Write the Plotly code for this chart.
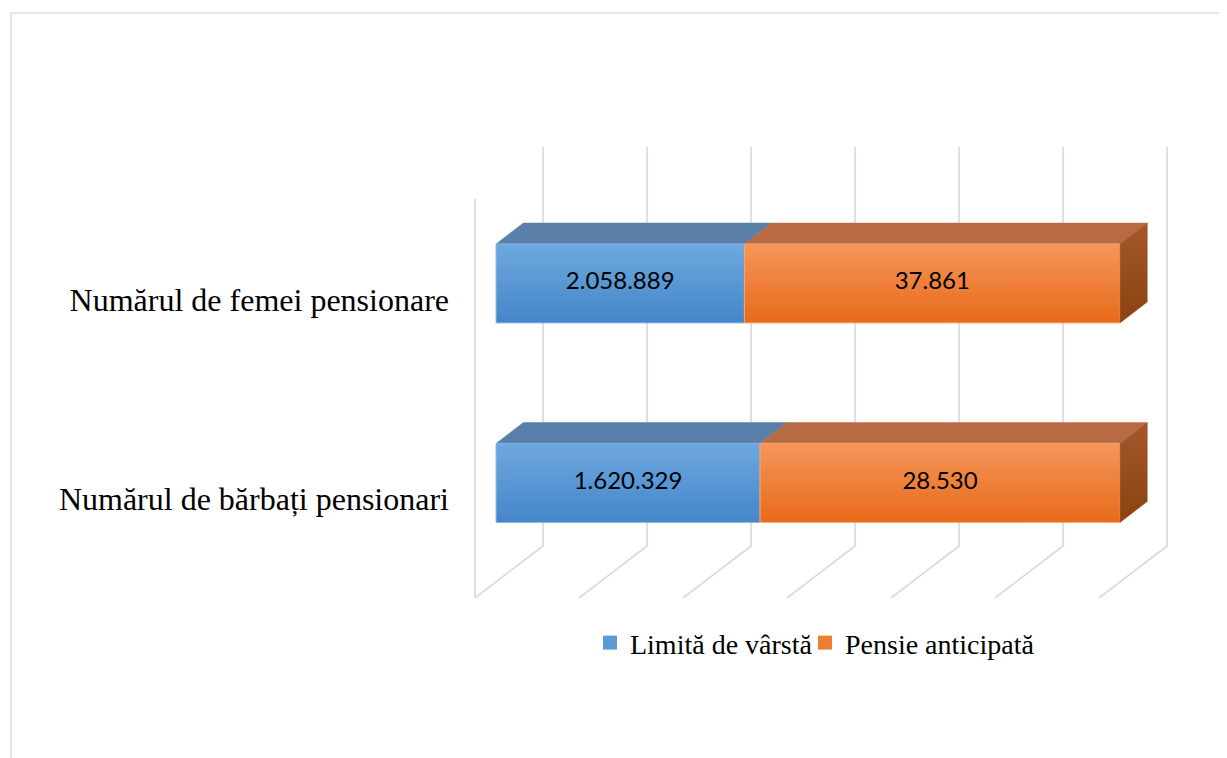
import plotly.graph_objects as go

# ---------------- data ----------------
categories = ["Numărul de bărbați pensionari", "Numărul de femei pensionare"]
series_names = ["Limită de vârstă", "Pensie anticipată"]
limita_values = [1620329, 2058889]        # data labels shown on the blue segments
anticipata_values = [28530, 37861]        # data labels shown on the orange segments
limita_share = [42.3, 39.8]               # bar length (percent of bar) as drawn
anticipata_share = [57.7, 60.2]
grid_ticks = [0, 100/6, 200/6, 300/6, 400/6, 500/6, 100]


def fmt(v):
    return f"{v:,}".replace(",", ".")


# ---------------- 3D projection settings ----------------
DX = 10.9      # x shift (data units) of full depth
DY = 0.2607    # y shift (data units) of full depth
FLOOR = -0.496
TOP = 1.504
D1, D2 = 0.31, 0.71   # bar front / back depth
HALF = 0.198

GRID = "#d9dce5"
BLUE = dict(top="#5a7fa8", light="#6fa8df", dark="#4486c9", edge="#7fb3e6", legend="#5b9bd5")
ORANGE = dict(top="#b86b42", light="#f5965b", dark="#e86a19", edge="#f7a673", legend="#ed7d31",
              side_light="#a3582c", side_dark="#8a420f")


def P(x, y, d):
    return x + d * DX, y + d * DY


fig = go.Figure()

# ---- gridlines (floor + back wall) and left wall edge ----
gx, gy = [], []
for t in grid_ticks:
    x0, y0 = P(t, FLOOR, 0)
    x1, y1 = P(t, FLOOR, 1)
    x2, y2 = P(t, TOP, 1)
    gx += [x0, x1, x2, None]
    gy += [y0, y1, y2, None]
wx0, wy0 = P(0, FLOOR, 0)
wx1, wy1 = P(0, TOP, 0)
gx += [wx0, wx1, None]
gy += [wy0, wy1, None]
fig.add_trace(go.Scatter(x=gx, y=gy, mode="lines", line=dict(color=GRID, width=1.8),
                         hoverinfo="skip", showlegend=False))


def poly(pts, **kw):
    xs = [p[0] for p in pts] + [pts[0][0]]
    ys = [p[1] for p in pts] + [pts[0][1]]
    fig.add_trace(go.Scatter(x=xs, y=ys, mode="lines", fill="toself", hoverinfo="skip",
                             showlegend=False, **kw))


for i, cat in enumerate(categories):
    segs = [(0, limita_share[i], BLUE, limita_values[i]),
            (limita_share[i], limita_share[i] + anticipata_share[i], ORANGE, anticipata_values[i])]
    top = i + HALF
    bot = i - HALF
    for k, (x0, x1, col, val) in enumerate(segs):
        # top face
        poly([P(x0, top, D1), P(x1, top, D1), P(x1, top, D2), P(x0, top, D2)],
             fillcolor=col["top"], line=dict(color=col["top"], width=0.5))
    for k, (x0, x1, col, val) in enumerate(segs):
        # front face with vertical gradient
        poly([P(x0, bot, D1), P(x1, bot, D1), P(x1, top, D1), P(x0, top, D1)],
             fillgradient=dict(type="vertical", colorscale=[[0, col["dark"]], [1, col["light"]]]),
             line=dict(color=col["edge"], width=1))
        if k == len(segs) - 1:
            poly([P(x1, bot, D1), P(x1, bot, D2), P(x1, top, D2), P(x1, top, D1)],
                 fillgradient=dict(type="vertical",
                                   colorscale=[[0, col["side_dark"]], [1, col["side_light"]]]),
                 line=dict(color=col["side_light"], width=0.5))
        cx, cy = P((x0 + x1) / 2, i, D1)
        fig.add_trace(go.Scatter(x=[cx], y=[cy], mode="text", text=[fmt(val)],
                                 textfont=dict(family="Lato", size=24, color="#000000"),
                                 hoverinfo="skip", showlegend=False))

# legend entries (two legends so each can be placed)
for name, col, lg in zip(series_names, [BLUE, ORANGE], ["legend", "legend2"]):
    fig.add_trace(go.Scatter(x=[None], y=[None], mode="markers", name=name, legend=lg,
                             marker=dict(symbol="square", size=14, color=col["legend"])))

# outer frame
fig.add_shape(type="line", xref="paper", yref="paper", x0=-0.651, x1=1.08, y0=1.273, y1=1.273,
              line=dict(color="#d9dde4", width=1.5))
fig.add_shape(type="line", xref="paper", yref="paper", x0=-0.651, x1=-0.651, y0=1.273, y1=-0.33,
              line=dict(color="#d9dde4", width=1.5))

legend_style = dict(orientation="h", xanchor="left", y=-0.0815, yanchor="middle",
                    font=dict(family="Liberation Serif", size=28, color="#000000"),
                    itemwidth=30, bgcolor="rgba(0,0,0,0)")

fig.update_layout(
    width=1219, height=750,
    margin=dict(l=462, r=52, t=132, b=153),
    paper_bgcolor="white", plot_bgcolor="white",
    xaxis=dict(range=[-5 / 6.24, 705 / 6.24 - 5 / 6.24], visible=False, fixedrange=True),
    yaxis=dict(range=[(499 - 605) / 199.5, (499 - 140) / 199.5], showgrid=False, zeroline=False,
               showline=False, tickvals=[0, 1], ticktext=categories, ticks="",
               ticklabelstandoff=20,
               tickfont=dict(family="Liberation Serif", size=32, color="#000000"),
               fixedrange=True),
    showlegend=True,
    legend=dict(x=0.1702, **legend_style),
    legend2=dict(x=0.4752, **legend_style),
)

fig.write_html("out.html")
